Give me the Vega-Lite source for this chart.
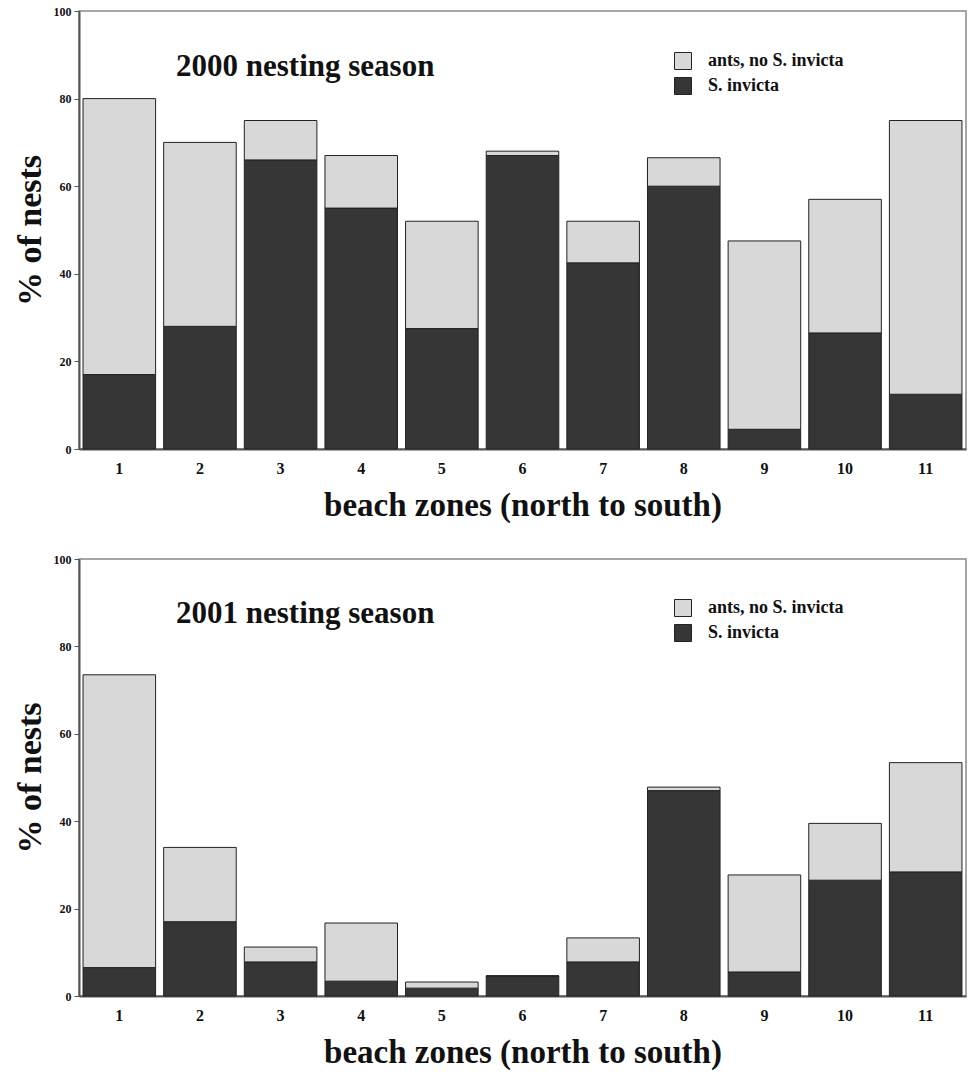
{
  "$schema": "https://vega.github.io/schema/vega-lite/v6.json",
  "background": "white",
  "padding": {"left": 12, "top": 4, "right": 2, "bottom": 2},
  "bounds": "flush",
  "spacing": 110,
  "data": {"values": [
    {"season": "2000", "zone": "1", "category": "S. invicta", "value": 17},
    {"season": "2000", "zone": "1", "category": "ants, no S. invicta", "value": 63},
    {"season": "2000", "zone": "2", "category": "S. invicta", "value": 28},
    {"season": "2000", "zone": "2", "category": "ants, no S. invicta", "value": 42},
    {"season": "2000", "zone": "3", "category": "S. invicta", "value": 66},
    {"season": "2000", "zone": "3", "category": "ants, no S. invicta", "value": 9},
    {"season": "2000", "zone": "4", "category": "S. invicta", "value": 55},
    {"season": "2000", "zone": "4", "category": "ants, no S. invicta", "value": 12},
    {"season": "2000", "zone": "5", "category": "S. invicta", "value": 27.5},
    {"season": "2000", "zone": "5", "category": "ants, no S. invicta", "value": 24.5},
    {"season": "2000", "zone": "6", "category": "S. invicta", "value": 67},
    {"season": "2000", "zone": "6", "category": "ants, no S. invicta", "value": 1},
    {"season": "2000", "zone": "7", "category": "S. invicta", "value": 42.5},
    {"season": "2000", "zone": "7", "category": "ants, no S. invicta", "value": 9.5},
    {"season": "2000", "zone": "8", "category": "S. invicta", "value": 60},
    {"season": "2000", "zone": "8", "category": "ants, no S. invicta", "value": 6.5},
    {"season": "2000", "zone": "9", "category": "S. invicta", "value": 4.5},
    {"season": "2000", "zone": "9", "category": "ants, no S. invicta", "value": 43},
    {"season": "2000", "zone": "10", "category": "S. invicta", "value": 26.5},
    {"season": "2000", "zone": "10", "category": "ants, no S. invicta", "value": 30.5},
    {"season": "2000", "zone": "11", "category": "S. invicta", "value": 12.5},
    {"season": "2000", "zone": "11", "category": "ants, no S. invicta", "value": 62.5},
    {"season": "2001", "zone": "1", "category": "S. invicta", "value": 6.5},
    {"season": "2001", "zone": "1", "category": "ants, no S. invicta", "value": 67},
    {"season": "2001", "zone": "2", "category": "S. invicta", "value": 17},
    {"season": "2001", "zone": "2", "category": "ants, no S. invicta", "value": 17},
    {"season": "2001", "zone": "3", "category": "S. invicta", "value": 7.8},
    {"season": "2001", "zone": "3", "category": "ants, no S. invicta", "value": 3.4},
    {"season": "2001", "zone": "4", "category": "S. invicta", "value": 3.4},
    {"season": "2001", "zone": "4", "category": "ants, no S. invicta", "value": 13.3},
    {"season": "2001", "zone": "5", "category": "S. invicta", "value": 1.8},
    {"season": "2001", "zone": "5", "category": "ants, no S. invicta", "value": 1.4},
    {"season": "2001", "zone": "6", "category": "S. invicta", "value": 4.6},
    {"season": "2001", "zone": "6", "category": "ants, no S. invicta", "value": 0},
    {"season": "2001", "zone": "7", "category": "S. invicta", "value": 7.8},
    {"season": "2001", "zone": "7", "category": "ants, no S. invicta", "value": 5.5},
    {"season": "2001", "zone": "8", "category": "S. invicta", "value": 47},
    {"season": "2001", "zone": "8", "category": "ants, no S. invicta", "value": 0.8},
    {"season": "2001", "zone": "9", "category": "S. invicta", "value": 5.5},
    {"season": "2001", "zone": "9", "category": "ants, no S. invicta", "value": 22.2},
    {"season": "2001", "zone": "10", "category": "S. invicta", "value": 26.5},
    {"season": "2001", "zone": "10", "category": "ants, no S. invicta", "value": 13},
    {"season": "2001", "zone": "11", "category": "S. invicta", "value": 28.4},
    {"season": "2001", "zone": "11", "category": "ants, no S. invicta", "value": 25}
  ]},
  "vconcat": [
    {
      "width": 887,
      "height": 438,
      "title": {"text": "2000 nesting season", "anchor": "start", "frame": "group", "orient": "top", "offset": -78, "dx": 97},
      "transform": [{"filter": "datum.season == '2000'"}],
      "mark": {"type": "bar", "stroke": "#222", "strokeWidth": 1},
      "encoding": {
        "x": {"field": "zone", "type": "ordinal", "sort": ["1","2","3","4","5","6","7","8","9","10","11"],
              "scale": {"paddingInner": 0.1, "paddingOuter": 0.05},
              "axis": {"title": "beach zones (north to south)", "labelAngle": 0}},
        "y": {"field": "value", "type": "quantitative", "stack": "zero",
              "scale": {"domain": [0, 100], "nice": false},
              "axis": {"title": "% of nests", "values": [0, 20, 40, 60, 80, 100]}},
        "color": {"field": "category", "type": "nominal",
                  "scale": {"domain": ["ants, no S. invicta", "S. invicta"], "range": ["#d8d8d8", "#363636"]},
                  "legend": {"orient": "none", "legendX": 595, "legendY": 41, "title": null}},
        "order": {"field": "category", "sort": "ascending"}
      }
    },
    {
      "width": 887,
      "height": 437,
      "title": {"text": "2001 nesting season", "anchor": "start", "frame": "group", "orient": "top", "offset": -77, "dx": 97},
      "transform": [{"filter": "datum.season == '2001'"}],
      "mark": {"type": "bar", "stroke": "#222", "strokeWidth": 1},
      "encoding": {
        "x": {"field": "zone", "type": "ordinal", "sort": ["1","2","3","4","5","6","7","8","9","10","11"],
              "scale": {"paddingInner": 0.1, "paddingOuter": 0.05},
              "axis": {"title": "beach zones (north to south)", "labelAngle": 0}},
        "y": {"field": "value", "type": "quantitative", "stack": "zero",
              "scale": {"domain": [0, 100], "nice": false},
              "axis": {"title": "% of nests", "values": [0, 20, 40, 60, 80, 100]}},
        "color": {"field": "category", "type": "nominal",
                  "scale": {"domain": ["ants, no S. invicta", "S. invicta"], "range": ["#d8d8d8", "#363636"]},
                  "legend": {"orient": "none", "legendX": 595, "legendY": 40, "title": null}},
        "order": {"field": "category", "sort": "ascending"}
      }
    }
  ],
  "resolve": {"scale": {"color": "independent", "x": "independent", "y": "independent"}, "legend": {"color": "independent"}},
  "config": {
    "font": "Liberation Serif",
    "view": {"stroke": "#888", "strokeWidth": 1.5},
    "title": {"font": "Liberation Serif", "fontSize": 31, "fontWeight": "bold", "color": "#111"},
    "axis": {"grid": false, "labelFont": "Liberation Serif", "titleFont": "Liberation Serif", "labelFontWeight": "bold", "titleFontWeight": "bold", "labelColor": "#111", "titleColor": "#111", "domainColor": "#555", "domainWidth": 2, "tickColor": "#555"},
    "axisX": {"ticks": false, "labelFontSize": 16, "labelPadding": 11, "titleFontSize": 33, "titlePadding": 13},
    "axisY": {"tickSize": 5, "labelFontSize": 12, "labelPadding": 3, "titleFontSize": 34, "titlePadding": 6},
    "legend": {"padding": 0, "symbolType": "square", "symbolSize": 289, "symbolStrokeColor": "#222", "symbolStrokeWidth": 1, "labelFont": "Liberation Serif", "labelFontSize": 18, "labelFontWeight": "bold", "labelColor": "#111", "rowPadding": 3, "labelOffset": 16}
  }
}
